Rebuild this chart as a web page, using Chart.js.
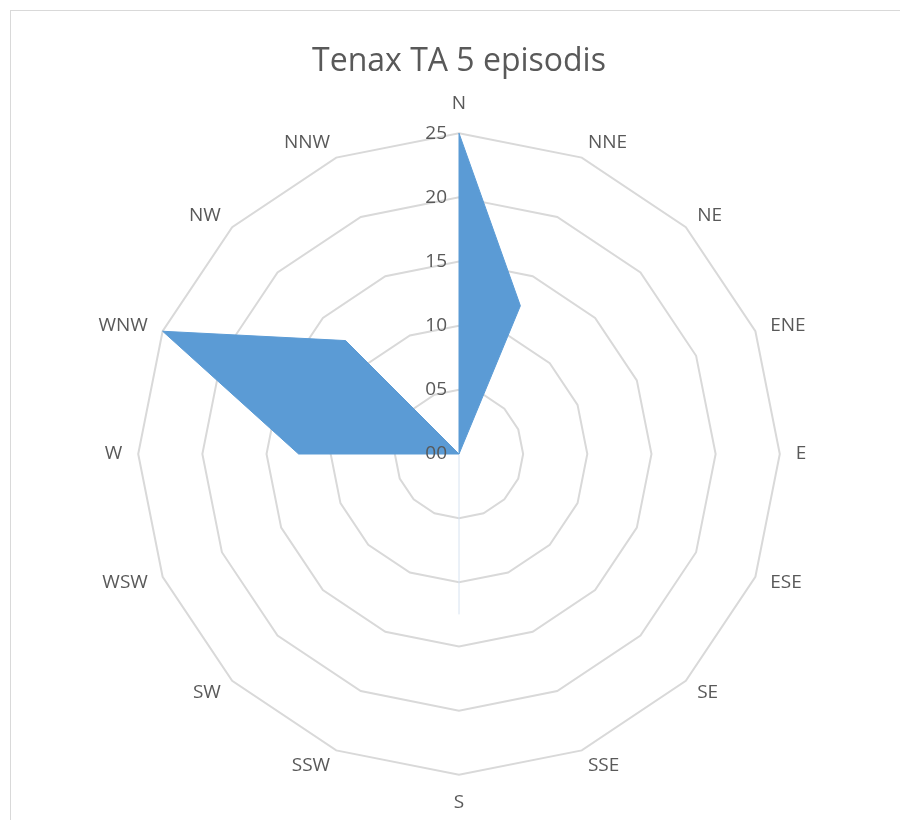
<!DOCTYPE html>
<html>
<head>
<meta charset="utf-8">
<script src="https://cdn.jsdelivr.net/npm/chart.js@4"></script>
<style>
  html, body { margin: 0; padding: 0; background: #fff; overflow: hidden; }
  #frame { position: absolute; left: 10px; top: 10px; width: 898px; height: 820px; border: 1px solid #d9d9d9; box-sizing: border-box; }
  #wrap { position: absolute; left: 0; top: 0; width: 896px; height: 808px; }
</style>
</head>
<body>
<div id="frame"><div id="wrap"><canvas id="radarChart"></canvas></div></div>
<script>
// wind directions and episode counts
const directions = ["N", "NNE", "NE", "ENE", "E", "ESE", "SE", "SSE", "S", "SSW", "SW", "WSW", "W", "WNW", "NW", "NNW"];
const episodes = [25, 12.5, 0, 0, 0, 0, 0, 0, 0, 0, 0, 0, 12.5, 25, 12.5, 0];
const tickValues = [0, 5, 10, 15, 20, 25];

const fmt = v => String(v).padStart(2, '0');
const labelFont = '19px "Open Sans"';

// Excel-like labels: ticks left of the vertical axis, direction names centred on their spoke
const excelLabels = {
  id: 'excelLabels',
  beforeDatasetsDraw(chart) {
    // faint value axis line pointing down
    const r = chart.scales.r;
    const p = r.getPointPositionForValue(8, 12.5);
    const ctx = chart.ctx;
    ctx.save();
    ctx.strokeStyle = '#d6e2f0';
    ctx.lineWidth = 1;
    ctx.beginPath();
    ctx.moveTo(r.xCenter, r.yCenter);
    ctx.lineTo(p.x, p.y);
    ctx.stroke();
    ctx.restore();
  },
  afterDatasetsDraw(chart) {
    const r = chart.scales.r;
    const ctx = chart.ctx;
    ctx.save();
    ctx.font = labelFont;
    ctx.fillStyle = '#595959';
    ctx.textBaseline = 'middle';

    ctx.textAlign = 'right';
    tickValues.forEach(v => {
      const d = r.getDistanceFromCenterForValue(v);
      ctx.fillText(fmt(v), r.xCenter - 12, r.yCenter - d);
    });

    directions.forEach((name, i) => {
      const pos = r.getPointPosition(i, r.drawingArea + 16);
      const dx = pos.x - r.xCenter;
      let y = pos.y;
      if (Math.abs(dx) < 1) {
        ctx.textAlign = 'center';
        y += pos.y < r.yCenter ? -14 : 12;
      } else {
        ctx.textAlign = dx > 0 ? 'left' : 'right';
      }
      ctx.fillText(name, pos.x, y);
    });
    ctx.restore();
  }
};

const ctx = document.getElementById("radarChart").getContext("2d");
new Chart(ctx, {
  type: "radar",
  data: {
    labels: directions,
    datasets: [{
      label: "Tenax TA 5 episodis",
      data: episodes,
      backgroundColor: "#5b9bd5",
      borderColor: "#5b9bd5",
      borderWidth: 1,
      fill: true,
      pointRadius: 0,
      pointHoverRadius: 0
    }]
  },
  options: {
    responsive: true,
    maintainAspectRatio: false,
    animation: false,
    layout: { padding: { left: 10, right: 10, top: 10, bottom: 4 } },
    plugins: {
      legend: { display: false },
      tooltip: { enabled: false },
      title: {
        display: true,
        text: "Tenax TA 5 episodis",
        color: "#595959",
        font: { family: "Open Sans", size: 32, weight: "normal" },
        padding: { top: 22, bottom: 12 }
      }
    },
    scales: {
      r: {
        min: 0,
        max: 25,
        ticks: { stepSize: 5, display: false },
        grid: { color: "#d9d9d9", lineWidth: 2 },
        angleLines: { display: false },
        pointLabels: {
          // kept for layout only, drawn by the plugin
          color: "rgba(0,0,0,0)",
          font: { family: "Open Sans", size: 19 },
          padding: 17
        }
      }
    }
  },
  plugins: [excelLabels]
});
</script>
</body>
</html>
